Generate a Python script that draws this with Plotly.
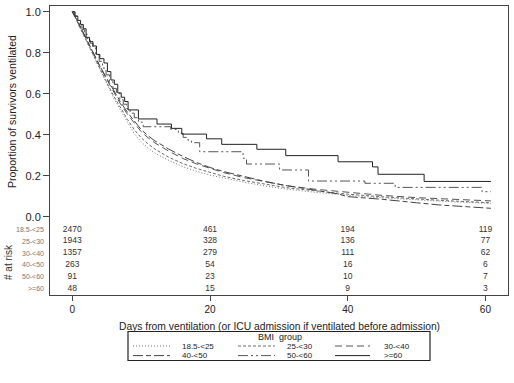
import plotly.graph_objects as go

# ---------------- data ----------------
groups = ["18.5-<25", "25-<30", "30-<40", "40-<50", "50-<60", ">=60"]

t_185 = [0, 0.5, 1, 2, 3, 4, 5, 6, 7, 8, 9, 10, 11, 12, 14, 16, 18, 20, 22, 25, 28, 31, 35, 40, 45, 50, 55, 60.8]
s_185 = [1.0, 0.97, 0.93, 0.86, 0.785, 0.715, 0.645, 0.58, 0.52, 0.46, 0.405, 0.365, 0.335, 0.31, 0.275, 0.245,
         0.222, 0.203, 0.188, 0.168, 0.15, 0.135, 0.12, 0.104, 0.092, 0.082, 0.073, 0.065]

t_25 = [0, 0.5, 1, 2, 3, 4, 5, 6, 7, 8, 9, 10, 11, 12, 14, 16, 18, 20, 22, 25, 28, 31, 35, 40, 45, 50, 55, 60.8]
s_25 = [1.0, 0.97, 0.93, 0.86, 0.79, 0.72, 0.655, 0.59, 0.53, 0.475, 0.425, 0.385, 0.355, 0.33, 0.29, 0.26,
        0.236, 0.215, 0.197, 0.176, 0.158, 0.142, 0.127, 0.11, 0.097, 0.086, 0.077, 0.068]

t_30 = [0, 0.5, 1, 2, 3, 4, 5, 6, 7, 8, 9, 10, 11, 12, 14, 16, 18, 20, 22, 25, 28, 31, 35, 40, 45, 50, 55, 60.8]
s_30 = [1.0, 0.97, 0.935, 0.87, 0.80, 0.735, 0.67, 0.61, 0.55, 0.50, 0.455, 0.415, 0.385, 0.36, 0.32, 0.285,
        0.258, 0.235, 0.215, 0.19, 0.17, 0.152, 0.135, 0.118, 0.104, 0.093, 0.084, 0.077]

t_40 = [0, 0.5, 1, 2, 3, 4, 5, 6, 7, 8, 9, 10, 11, 12, 14, 16, 18, 20, 22, 25, 28, 31, 35, 38.5, 40, 45, 50, 53.4, 60.8]
s_40 = [1.0, 0.97, 0.94, 0.87, 0.80, 0.735, 0.675, 0.615, 0.56, 0.51, 0.465, 0.425, 0.395, 0.37, 0.33, 0.295,
        0.265, 0.24, 0.22, 0.195, 0.172, 0.152, 0.13, 0.112, 0.098, 0.085, 0.068, 0.057, 0.041]

t_50 = [0, 0.3, 0.7, 1.0, 1.4, 1.8, 2.2, 2.6, 3.0, 3.4, 3.9, 4.4, 4.9, 5.4, 5.9, 6.4, 6.9, 7.4, 7.9, 8.4, 9.0,
        9.6, 10.3, 14.3, 15.4, 16.1, 16.8, 17.3, 18.5, 24.8, 25.3, 30.1, 34.3, 42.5, 46.9, 59.5, 60.8]
s_50 = [1.0, 0.978, 0.956, 0.934, 0.912, 0.89, 0.868, 0.846, 0.824, 0.791, 0.758, 0.725, 0.692, 0.659, 0.626,
        0.604, 0.571, 0.549, 0.527, 0.505, 0.483, 0.461, 0.439, 0.426, 0.407, 0.387, 0.374, 0.361, 0.317, 0.285,
        0.257, 0.228, 0.174, 0.163, 0.143, 0.122, 0.122]

t_60 = [0, 0.4, 0.8, 1.2, 1.6, 2.0, 2.5, 3.0, 3.5, 4.0, 4.6, 5.1, 5.6, 6.1, 6.6, 7.1, 7.6, 8.1, 9.6, 12.3, 14.4,
        15.9, 19.5, 21.7, 26.8, 31.0, 38.6, 43.6, 44.4, 51.1, 60.8]
s_60 = [1.0, 0.979, 0.958, 0.938, 0.917, 0.875, 0.854, 0.833, 0.792, 0.771, 0.75, 0.708, 0.667, 0.646, 0.604,
        0.583, 0.562, 0.521, 0.477, 0.452, 0.431, 0.403, 0.38, 0.353, 0.329, 0.298, 0.268, 0.243, 0.207, 0.172,
        0.172]

risk_times = [0, 20, 40, 60]
risk_185 = [2470, 461, 194, 119]
risk_25 = [1943, 328, 136, 77]
risk_30 = [1357, 279, 111, 62]
risk_40 = [263, 54, 16, 6]
risk_50 = [91, 23, 10, 7]
risk_60 = [48, 15, 9, 3]

x_ticks = [0, 20, 40, 60]
y_ticks = [0.0, 0.2, 0.4, 0.6, 0.8, 1.0]

# ---------------- styling / layout ----------------
W, H = 514, 383
ML, MR, MT, MB = 50, 6, 6, 88
PW, PH = W - ML - MR, H - MT - MB
FONT = "Liberation Sans, Arial, sans-serif"


def px_x(p):
    return (p - ML) / PW


def px_y(p):
    return (H - MB - p) / PH


curves = [
    (t_185, s_185, "18.5-<25", "1px,2px", "#777777", "linear"),
    (t_25, s_25, "25-<30", "3px,2px", "#6a6a6a", "linear"),
    (t_30, s_30, "30-<40", "7px,4px", "#555555", "linear"),
    (t_40, s_40, "40-<50", "10px,3px,5px,3px", "#444444", "linear"),
    (t_50, s_50, "50-<60", "10px,3px,2px,3px,2px,3px", "#555555", "hv"),
    (t_60, s_60, ">=60", "solid", "#222222", "hv"),
]

fig = go.Figure()
for t, s, name, dash, col, shape in curves:
    fig.add_trace(go.Scatter(x=t, y=s, mode="lines", name=name, showlegend=False,
                             line=dict(color=col, width=1, dash=dash, shape=shape)))

# risk table
risk_rows = [risk_185, risk_25, risk_30, risk_40, risk_50, risk_60]
y_top = -0.062
dy = 0.0576
annotations = []
for i, (g, row) in enumerate(zip(groups, risk_rows)):
    yy = y_top - dy * i
    fig.add_trace(go.Scatter(x=risk_times, y=[yy] * len(risk_times), mode="text",
                             text=[str(v) for v in row], showlegend=False,
                             textfont=dict(size=8.5, color="#333333", family=FONT),
                             hoverinfo="skip"))
    annotations.append(dict(x=px_x(46), xref="paper", y=yy, yref="y", text=g, showarrow=False,
                            xanchor="right", yanchor="middle",
                            font=dict(size=7, color="#777777", family=FONT)))

annotations.append(dict(x=px_x(8), xref="paper", y=px_y(262), yref="paper", text="# at risk",
                        showarrow=False, textangle=-90, xanchor="center", yanchor="middle",
                        font=dict(size=10, color="#333333", family=FONT)))
annotations.append(dict(x=px_x(12), xref="paper", y=px_y(112), yref="paper",
                        text="Proportion of survivors ventilated",
                        showarrow=False, textangle=-90, xanchor="center", yanchor="middle",
                        font=dict(size=10.5, color="#222222", family=FONT)))
annotations.append(dict(x=px_x(279), xref="paper", y=px_y(326), yref="paper",
                        text="Days from ventilation (or ICU admission if ventilated before admission)",
                        showarrow=False, xanchor="center", yanchor="middle", borderpad=0,
                        font=dict(size=10.3, color="#222222", family=FONT)))

# manual legend
shapes = [dict(type="rect", xref="paper", yref="paper", x0=px_x(128), x1=px_x(430),
               y0=px_y(360.5), y1=px_y(331.5), line=dict(color="#222222", width=1.2))]
annotations.append(dict(x=px_x(280), xref="paper", y=px_y(337.3), yref="paper", text="BMI  group",
                        showarrow=False, xanchor="center", yanchor="middle", borderpad=0,
                        font=dict(size=9, color="#222222", family=FONT)))
col_x = [(133, 170, 181), (238, 275, 286), (335, 370, 383)]
row_y = [346.0, 355.6]
for k, (t, s, name, dash, col, shape) in enumerate(curves):
    r, c = divmod(k, 3)
    x0, x1, xl = col_x[c]
    yy = row_y[r]
    shapes.append(dict(type="line", xref="paper", yref="paper", x0=px_x(x0), x1=px_x(x1),
                       y0=px_y(yy), y1=px_y(yy), line=dict(color=col, width=1, dash=dash)))
    annotations.append(dict(x=px_x(xl), xref="paper", y=px_y(yy), yref="paper", text=name,
                            showarrow=False, xanchor="left", yanchor="middle", borderpad=0,
                            font=dict(size=8, color="#222222", family=FONT)))

fig.update_layout(
    width=W, height=H,
    margin=dict(l=ML, r=MR, t=MT, b=MB, pad=0, autoexpand=False),
    paper_bgcolor="white", plot_bgcolor="white",
    font=dict(family=FONT, color="#222222"),
    showlegend=False,
    annotations=annotations,
    shapes=shapes,
    xaxis=dict(range=[-3.24, 63.28], tickvals=x_ticks, ticks="outside", ticklen=5, tickcolor="#444444",
               showline=True, linecolor="#444444", linewidth=1, mirror=True, showgrid=False,
               zeroline=False, automargin=False, tickfont=dict(size=10, color="#222222")),
    yaxis=dict(range=[-0.382, 1.028], tickvals=y_ticks, tickformat=".1f", ticks="outside", ticklen=6,
               tickcolor="#444444", showline=True, linecolor="#444444", linewidth=1, mirror=True,
               showgrid=False, zeroline=False, automargin=False, tickfont=dict(size=11, color="#222222")),
)

fig.write_html("out.html", config={"displayModeBar": False},
               post_script="document.body.style.margin='0px';document.body.style.overflow='hidden';")
